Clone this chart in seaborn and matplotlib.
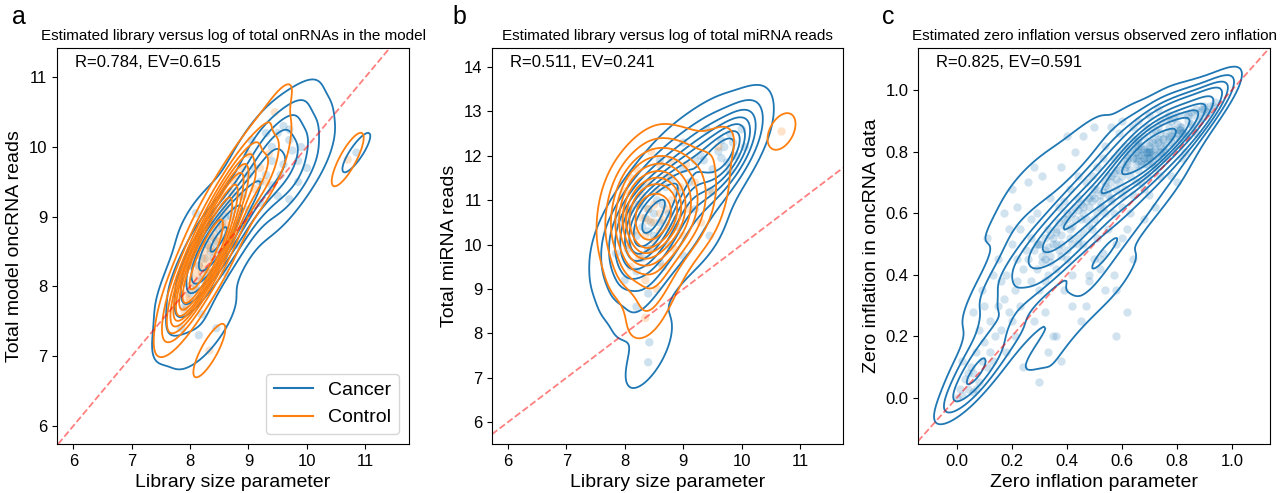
import numpy as np
import pandas as pd
import matplotlib
matplotlib.use("Agg")
import matplotlib.pyplot as plt
import seaborn as sns
from matplotlib.lines import Line2D

plt.rcParams['font.family'] = ['Liberation Sans', 'DejaVu Sans']

# ---------------- Panel a data: library size vs log total oncRNA reads ----------------
a_cancer_x = [8.0, 8.1, 8.15, 8.2, 8.25, 8.3, 8.3, 8.35, 8.4, 8.4, 8.45, 8.5, 8.5, 8.55, 8.6,
              8.6, 8.65, 8.7, 8.75, 8.8, 8.2, 8.1, 7.9, 7.85, 8.0, 8.7, 8.9, 9.0, 8.45, 8.35,
              9.05, 9.2, 9.3, 9.4, 9.5, 9.55, 9.6, 9.7, 9.7, 9.75, 9.85, 9.85, 9.7, 9.1, 9.4,
              9.3, 9.6, 9.9, 10.0, 9.5, 9.2, 9.0, 9.4, 7.95, 8.6, 8.8, 8.2, 8.15,
              10.85]
a_cancer_y = [7.9, 8.0, 8.3, 8.1, 8.4, 8.6, 8.2, 8.5, 8.7, 8.4, 8.6, 8.8, 8.5, 8.9, 8.7,
              9.0, 8.8, 9.0, 9.1, 8.9, 8.7, 9.05, 7.7, 7.4, 8.3, 8.6, 9.3, 9.1, 7.4, 8.9,
              10.1, 9.5, 9.6, 9.8, 10.2, 9.6, 9.75, 10.25, 10.1, 9.95, 9.8, 9.5, 9.25, 9.7, 10.0,
              10.2, 10.3, 10.0, 9.7, 9.3, 9.2, 9.6, 9.45, 8.3, 8.2, 8.6, 7.6, 7.3,
              9.92]
a_control_x = [7.95, 7.95, 7.9, 7.95, 8.0, 8.0, 8.05, 8.1, 8.1, 8.15, 8.15, 8.2, 8.2, 8.25, 8.25,
               8.3, 8.3, 8.3, 8.35, 8.35, 8.4, 8.4, 8.45, 8.45, 8.5, 8.5, 8.55, 8.6, 8.6, 8.65,
               8.7, 8.75, 8.8, 8.85, 8.9, 8.2, 8.1, 8.35, 8.5, 8.0, 8.4, 8.55, 8.25, 7.9, 8.65,
               9.1, 9.2, 9.3, 9.45, 9.35, 9.0, 8.33, 10.7]
a_control_y = [7.7, 7.8, 7.65, 7.9, 8.0, 7.8, 8.1, 8.2, 7.95, 8.3, 8.1, 8.4, 8.2, 8.5, 8.3,
               8.6, 8.4, 8.25, 8.55, 8.7, 8.5, 8.8, 8.65, 8.9, 8.7, 9.0, 8.85, 9.1, 8.9, 9.2,
               9.35, 9.5, 9.6, 9.3, 9.7, 8.6, 8.45, 8.2, 8.4, 8.3, 9.1, 9.3, 8.85, 8.05, 8.75,
               9.4, 9.7, 9.5, 10.5, 9.9, 9.9, 7.08, 9.82]

# ---------------- Panel b data: library size vs log total miRNA reads ----------------
b_cancer_x = [8.0, 8.1, 8.2, 8.25, 8.3, 8.35, 8.4, 8.4, 8.45, 8.5, 8.5, 8.55, 8.6, 8.65, 8.7,
              8.75, 8.8, 8.9, 9.0, 9.1, 8.3, 8.4, 8.2, 8.4, 8.6, 9.0, 9.45, 8.42, 8.4, 8.05,
              8.75, 8.3, 9.2, 9.3, 9.35, 9.5, 9.6, 9.65, 9.7, 9.75, 9.8, 9.85, 9.8, 9.65, 9.9,
              7.85, 7.9, 8.0, 8.6, 9.0, 9.4, 8.2, 8.9, 9.2, 9.5, 10.0, 10.05]
b_cancer_y = [10.6, 10.8, 10.2, 10.9, 10.4, 10.6, 10.3, 10.8, 10.5, 10.7, 10.2, 11.0, 10.5, 10.9, 11.3,
              10.7, 11.5, 11.2, 11.7, 11.4, 9.7, 9.9, 9.4, 8.9, 9.6, 9.75, 10.2, 7.8, 7.35, 9.9,
              10.0, 11.3, 11.9, 12.0, 11.9, 11.7, 12.1, 12.35, 12.2, 11.85, 12.5, 12.3, 11.65, 11.95, 12.0,
              9.8, 10.5, 9.2, 11.9, 12.3, 12.6, 8.6, 10.4, 10.8, 11.2, 12.6, 12.2]
b_control_x = [8.0, 8.0, 8.0, 8.05, 8.05, 8.1, 8.15, 8.2, 8.2, 8.25, 8.3, 8.3, 8.35, 8.4, 8.4,
               8.45, 8.5, 8.5, 8.55, 8.6, 8.6, 8.65, 8.7, 8.7, 8.75, 8.8, 8.85, 8.9, 8.95, 9.0,
               9.05, 9.1, 9.2, 9.3, 9.45, 8.35, 8.55, 8.8, 8.45, 8.6, 8.35, 10.68, 9.6, 8.1, 8.5,
               8.65, 8.4]
b_control_y = [10.8, 10.4, 11.2, 10.0, 10.7, 11.5, 10.3, 10.9, 11.7, 9.7, 10.6, 11.1, 10.2, 10.8, 11.4,
               9.9, 10.5, 10.9, 11.2, 10.3, 10.7, 9.5, 10.8, 11.5, 10.4, 11.0, 9.9, 10.6, 11.3, 10.2,
               11.8, 10.8, 11.4, 10.5, 11.2, 9.2, 9.0, 11.9, 12.1, 11.8, 8.35, 12.55, 12.2, 9.5, 10.1,
               10.55, 10.55]

# ---------------- Panel c data: zero inflation parameter vs observed ----------------
c_x = [0.00, 0.01, 0.02, 0.03, 0.04, 0.05, 0.02, 0.04, 0.06,
       0.06, 0.07, 0.08, 0.08, 0.09, 0.10, 0.10, 0.11, 0.12, 0.12, 0.13, 0.14, 0.06, 0.09, 0.11, 0.13, 0.15, 0.07,
       0.15, 0.16, 0.17, 0.17, 0.18, 0.18, 0.19, 0.20, 0.20, 0.21, 0.21, 0.22, 0.22, 0.23, 0.23, 0.24, 0.24, 0.25,
       0.16, 0.19, 0.20, 0.22,
       0.26, 0.26, 0.27, 0.27, 0.28, 0.28, 0.29, 0.29, 0.30, 0.30, 0.31, 0.31, 0.32, 0.32, 0.33, 0.33, 0.34, 0.34,
       0.35, 0.35, 0.27, 0.30, 0.32, 0.28, 0.33, 0.29,
       0.36, 0.36, 0.37, 0.37, 0.38, 0.38, 0.39, 0.39, 0.40, 0.40, 0.41, 0.41, 0.42, 0.42, 0.43, 0.43, 0.44, 0.44,
       0.45, 0.45, 0.38, 0.40, 0.42, 0.36, 0.44, 0.39,
       0.46, 0.46, 0.47, 0.47, 0.48, 0.48, 0.49, 0.49, 0.50, 0.50, 0.51, 0.51, 0.52, 0.52, 0.53, 0.53, 0.54, 0.54,
       0.55, 0.55, 0.46, 0.48, 0.50, 0.52, 0.54, 0.47, 0.49, 0.51, 0.53, 0.55,
       0.56, 0.56, 0.57, 0.57, 0.58, 0.58, 0.59, 0.59, 0.60, 0.60, 0.61, 0.61, 0.62, 0.62, 0.63, 0.63, 0.64, 0.64,
       0.65, 0.65, 0.56, 0.58, 0.60, 0.62, 0.64, 0.57, 0.59, 0.61, 0.63, 0.65, 0.58, 0.60, 0.62, 0.64,
       0.66, 0.66, 0.67, 0.67, 0.68, 0.68, 0.69, 0.69, 0.70, 0.70, 0.71, 0.71, 0.72, 0.72, 0.73, 0.73, 0.74, 0.74,
       0.75, 0.75, 0.66, 0.68, 0.70, 0.72, 0.74, 0.67, 0.69, 0.71, 0.73, 0.75, 0.68, 0.70, 0.72, 0.66, 0.70, 0.74,
       0.76, 0.76, 0.77, 0.77, 0.78, 0.78, 0.79, 0.79, 0.80, 0.80, 0.81, 0.81, 0.82, 0.82, 0.83, 0.83, 0.84, 0.84,
       0.85, 0.85, 0.76, 0.78, 0.80, 0.82, 0.84, 0.77, 0.79, 0.81, 0.83, 0.80,
       0.86, 0.86, 0.87, 0.88, 0.88, 0.89, 0.90, 0.90, 0.91, 0.92, 0.93, 0.94, 0.87, 0.89, 0.91,
       0.30, 0.31, 0.32, 0.33, 0.34, 0.35, 0.36, 0.37, 0.38, 0.39, 0.40, 0.41, 0.42, 0.43, 0.44, 0.45, 0.46, 0.47,
       0.48, 0.49, 0.50, 0.51, 0.52, 0.53, 0.54, 0.55, 0.56, 0.57, 0.58, 0.59, 0.60, 0.61, 0.62, 0.63, 0.64, 0.65,
       0.66, 0.67, 0.68, 0.69, 0.70, 0.71, 0.72, 0.73, 0.74, 0.75, 0.76, 0.77, 0.78, 0.79, 0.80, 0.81, 0.82, 0.62,
       0.64, 0.66, 0.68, 0.70, 0.72, 0.74, 0.58, 0.60, 0.56, 0.54, 0.52, 0.50, 0.48, 0.46, 0.44, 0.42, 0.40, 0.38,
       0.36, 0.34, 0.32, 0.67, 0.69, 0.71, 0.73, 0.75,
       0.64, 0.65, 0.66, 0.67, 0.68, 0.69, 0.70, 0.71, 0.72, 0.66, 0.68, 0.70]
c_y = [0.00, 0.03, 0.01, 0.06, 0.03, 0.10, 0.12, 0.08, 0.02,
       0.08, 0.15, 0.05, 0.22, 0.12, 0.18, 0.30, 0.10, 0.25, 0.15, 0.40, 0.20, 0.28, 0.35, 0.52, 0.12, 0.30, 0.03,
       0.45, 0.22, 0.60, 0.32, 0.40, 0.15, 0.28, 0.50, 0.68, 0.35, 0.20, 0.45, 0.62, 0.30, 0.55, 0.42, 0.10, 0.48,
       0.38, 0.55, 0.25, 0.38,
       0.45, 0.70, 0.38, 0.52, 0.48, 0.25, 0.42, 0.60, 0.50, 0.35, 0.44, 0.72, 0.48, 0.28, 0.55, 0.40, 0.46, 0.65,
       0.52, 0.20, 0.58, 0.05, 0.38, 0.75, 0.15, 0.50,
       0.55, 0.42, 0.62, 0.48, 0.50, 0.75, 0.58, 0.35, 0.60, 0.45, 0.68, 0.52, 0.56, 0.30, 0.62, 0.80, 0.50, 0.65,
       0.58, 0.25, 0.12, 0.85, 0.40, 0.20, 0.72, 0.64,
       0.62, 0.50, 0.70, 0.58, 0.65, 0.40, 0.72, 0.55, 0.68, 0.45, 0.75, 0.60, 0.66, 0.45, 0.78, 0.62, 0.70, 0.35,
       0.72, 0.55, 0.85, 0.38, 0.88, 0.42, 0.82, 0.30, 0.64, 0.52, 0.47, 0.68,
       0.72, 0.65, 0.78, 0.60, 0.74, 0.50, 0.80, 0.70, 0.76, 0.62, 0.82, 0.68, 0.78, 0.55, 0.80, 0.72, 0.84, 0.66,
       0.78, 0.70, 0.88, 0.35, 0.90, 0.28, 0.45, 0.40, 0.86, 0.74, 0.60, 0.82, 0.20, 0.52, 0.76, 0.88,
       0.80, 0.74, 0.82, 0.76, 0.78, 0.85, 0.80, 0.72, 0.83, 0.78, 0.86, 0.80, 0.82, 0.75, 0.84, 0.88, 0.80, 0.86,
       0.84, 0.78, 0.90, 0.68, 0.92, 0.62, 0.90, 0.70, 0.88, 0.76, 0.94, 0.82, 0.58, 0.66, 0.87, 0.84, 0.80, 0.72,
       0.86, 0.80, 0.88, 0.84, 0.85, 0.90, 0.87, 0.82, 0.89, 0.86, 0.87, 0.84, 0.86, 0.88, 0.92, 0.86, 0.90, 0.92,
       0.93, 0.89, 0.91, 0.72, 0.92, 0.78, 0.85, 0.92, 0.91, 0.88, 0.80, 0.70,
       0.92, 0.88, 0.94, 0.93, 0.90, 0.94, 0.94, 0.95, 0.93, 0.95, 0.95, 0.96, 0.86, 0.91, 0.93,
       0.50, 0.46, 0.52, 0.49, 0.53, 0.50, 0.54, 0.57, 0.53, 0.56, 0.58, 0.55, 0.60, 0.58, 0.61, 0.63, 0.60, 0.64,
       0.62, 0.66, 0.65, 0.68, 0.64, 0.67, 0.69, 0.66, 0.70, 0.73, 0.71, 0.74, 0.72, 0.75, 0.77, 0.74, 0.78, 0.76,
       0.79, 0.81, 0.78, 0.80, 0.82, 0.79, 0.81, 0.83, 0.80, 0.84, 0.82, 0.85, 0.83, 0.86, 0.84, 0.87, 0.86, 0.79,
       0.81, 0.83, 0.80, 0.78, 0.84, 0.82, 0.68, 0.66, 0.64, 0.60, 0.62, 0.58, 0.56, 0.54, 0.52, 0.50, 0.48, 0.46,
       0.50, 0.44, 0.45, 0.77, 0.76, 0.83, 0.78, 0.80,
       0.78, 0.80, 0.77, 0.79, 0.81, 0.78, 0.80, 0.77, 0.79, 0.82, 0.76, 0.81]

groups = ["Cancer", "Control"]
palette = {"Cancer": "#1f77b4", "Control": "#ff7f0e"}

titles = ["Estimated library versus log of total onRNAs in the model",
          "Estimated library versus log of total miRNA reads",
          "Estimated zero inflation versus observed zero inflation"]
xlabels = ["Library size parameter", "Library size parameter", "Zero inflation parameter"]
ylabels = ["Total model oncRNA reads", "Total miRNA reads", "Zero inflation in oncRNA data"]
stats = ["R=0.784, EV=0.615", "R=0.511, EV=0.241", "R=0.825, EV=0.591"]
letters = ["a", "b", "c"]


def make_df(cx, cy, kx, ky):
    return pd.DataFrame({
        "x": cx + kx,
        "y": cy + ky,
        "group": ["Cancer"] * len(cx) + ["Control"] * len(kx),
    })


df_a = make_df(a_cancer_x, a_cancer_y, a_control_x, a_control_y)
df_b = make_df(b_cancer_x, b_cancer_y, b_control_x, b_control_y)
df_c = pd.DataFrame({"x": c_x, "y": c_y})

W, H = 1287, 493
fig = plt.figure(figsize=(W / 100, H / 100), dpi=100)

boxes = [(57, 409), (492, 843), (918, 1270)]
top, bottom = 48, 444
axes = []
for (l, r) in boxes:
    ax = fig.add_axes([l / W, (H - bottom) / H, (r - l) / W, (bottom - top) / H])
    axes.append(ax)

# panel a, b
for ax, df in zip(axes[:2], [df_a, df_b]):
    sns.scatterplot(data=df, x="x", y="y", hue="group", hue_order=groups, palette=palette,
                    alpha=0.22, linewidth=0, s=36, ax=ax, legend=False)
    sns.kdeplot(data=df, x="x", y="y", hue="group", hue_order=groups, palette=palette,
                levels=10, ax=ax, legend=False, linewidths=1.3)

# panel c
sns.scatterplot(data=df_c, x="x", y="y", color="#1f77b4", alpha=0.2, linewidth=0, s=36, ax=axes[2])
sns.kdeplot(data=df_c, x="x", y="y", color="#1f77b4", levels=10, bw_adjust=0.8, ax=axes[2],
            linewidths=1.3)

limits = [((5.72, 11.75), (5.74, 11.42)),
          ((5.73, 11.73), (5.51, 14.43)),
          ((-0.141, 1.139), (-0.150, 1.137))]

for i, ax in enumerate(axes):
    ax.axline((0, 0), slope=1, color="red", alpha=0.5, linestyle="--", linewidth=1.3)
    ax.set_xlim(*limits[i][0])
    ax.set_ylim(*limits[i][1])
    ax.set_title(titles[i], fontsize=11, pad=6)
    ax.set_xlabel(xlabels[i], fontsize=14)
    ax.set_ylabel(ylabels[i], fontsize=14)
    ax.tick_params(labelsize=12)
    ax.text(0.05, 0.963, stats[i], transform=ax.transAxes, fontsize=12, va="center", ha="left")

for ax in axes[:2]:
    ax.set_xticks([6, 7, 8, 9, 10, 11])

handles = [Line2D([], [], color=palette[g], linewidth=1.5) for g in groups]
axes[0].legend(handles, groups, loc="lower right", fontsize=14, frameon=True)

letter_x = [12, 452, 882]
for lx, lt in zip(letter_x, letters):
    fig.text(lx / W, 1 - 24 / H, lt, fontsize=18, ha="left", va="baseline")

fig.savefig("out.png", dpi=100)
